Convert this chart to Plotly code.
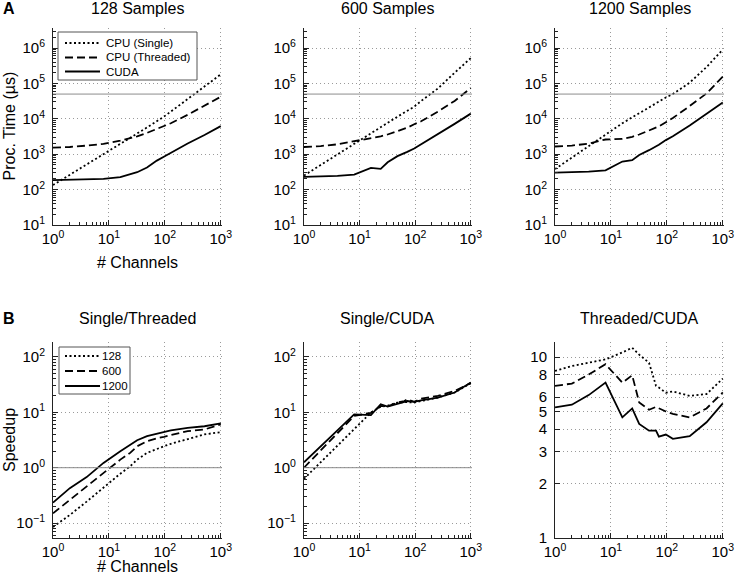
import plotly.graph_objects as go

# %%
# dados (eixo x = número de canais)

channels = [1, 2, 4, 8, 16, 24, 32, 48, 64, 72, 96, 128, 256, 512, 1000]

# tempo de processamento (us)
t128_single = [134, 260, 500, 1000, 1900, 2830, 3800, 5700, 7600, 8500, 11500, 16000, 36000, 82000, 180000]
t128_threaded = [1540, 1600, 1750, 1950, 2400, 2800, 3200, 4000, 4800, 5100, 6200, 7500, 13000, 23000, 42000]
t128_cuda = [185, 188, 192, 200, 225, 270, 310, 420, 600, 660, 850, 1100, 2000, 3500, 6200]

t600_single = [250, 500, 1000, 1900, 3800, 5700, 7600, 11500, 15000, 17000, 22000, 32000, 72000, 200000, 520000]
t600_threaded = [1600, 1700, 1900, 2300, 2800, 3200, 3600, 4400, 5200, 5600, 7000, 8500, 16000, 32000, 74000]
t600_cuda = [230, 235, 245, 265, 410, 385, 590, 880, 1050, 1160, 1450, 1900, 3700, 7200, 14000]

t1200_single = [380, 800, 1700, 3600, 7500, 11000, 14500, 21000, 28000, 31000, 40000, 50000, 105000, 290000, 900000]
t1200_threaded = [1650, 1750, 2000, 2600, 2700, 3100, 3600, 4600, 5600, 6100, 8000, 10500, 23000, 52000, 155000]
t1200_cuda = [300, 305, 320, 350, 620, 680, 950, 1300, 1650, 1850, 2500, 3200, 6500, 13500, 29000]

# speedups
st_128 = [0.085, 0.14, 0.244, 0.445, 0.78, 1.06, 1.4, 1.85, 2.1, 2.2, 2.44, 2.7, 3.32, 4.0, 4.39]
st_600 = [0.15, 0.263, 0.446, 0.78, 1.40, 1.85, 2.44, 3.01, 3.3, 3.4, 3.61, 3.9, 4.58, 4.9, 6.05]
st_1200 = [0.234, 0.427, 0.676, 1.22, 1.98, 2.62, 3.14, 3.72, 3.98, 4.2, 4.5, 4.7, 5.26, 5.6, 6.3]

sc_128 = [0.63, 1.25, 2.5, 5.0, 9.9, 12.6, 13.2, 15, 15.5, 15.3, 15, 16, 18.5, 22.8, 33.6]
sc_600 = [1.0, 2.05, 4.2, 8.6, 9.8, 13, 12.8, 15, 16, 17.2, 15.5, 17.7, 19.8, 24.4, 33.6]
sc_1200 = [1.25, 2.4, 4.7, 9.2, 8.9, 14, 12.7, 14.4, 15.5, 16, 15.4, 16.5, 18.5, 22.8, 34.6]

tc_128 = [8.38, 8.92, 9.3, 9.7, 10.6, 11.25, 10.3, 9.3, 6.93, 6.78, 6.35, 6.45, 6.1, 6.24, 7.6]
tc_600 = [6.93, 7.13, 8.0, 9.12, 7.22, 7.93, 5.61, 5.11, 5.3, 5.2, 5.0, 4.85, 4.64, 5.2, 6.37]
tc_1200 = [5.27, 5.45, 6.16, 7.22, 4.64, 5.2, 4.27, 3.92, 3.92, 3.63, 3.73, 3.53, 3.65, 4.36, 5.54]

realtime_us = 5e4   # linha cinza (painel A)
unity = 1           # linha cinza (painel B)

top_titles = ["128 Samples", "600 Samples", "1200 Samples"]
bottom_titles = ["Single/Threaded", "Single/CUDA", "Threaded/CUDA"]
top_names = ["CPU (Single)", "CPU (Threaded)", "CUDA"]
bottom_names = ["128", "600", "1200"]

# %%
FONT = "Liberation Sans, Arial, sans-serif"
DASHES = ["2px,2.5px", "8px,4px", "solid"]
W, H = 736, 585

col_x = [[0.0720, 0.3016], [0.4130, 0.6413], [0.7541, 0.9837]]
top_y = [0.6154, 0.9521]
bot_y = [0.0803, 0.4154]

panels = [
    (top_y, [t128_single, t128_threaded, t128_cuda], top_names),
    (top_y, [t600_single, t600_threaded, t600_cuda], top_names),
    (top_y, [t1200_single, t1200_threaded, t1200_cuda], top_names),
    (bot_y, [st_128, st_600, st_1200], bottom_names),
    (bot_y, [sc_128, sc_600, sc_1200], bottom_names),
    (bot_y, [tc_128, tc_600, tc_1200], bottom_names),
]

fig = go.Figure()

for i, (ydom, series, names) in enumerate(panels):
    n = "" if i == 0 else str(i + 1)
    for s, name, dash in zip(series, names, DASHES):
        fig.add_trace(go.Scatter(x=channels, y=s, mode="lines", name=name,
                                 line=dict(color="black", width=1.8, dash=dash),
                                 xaxis="x" + n, yaxis="y" + n, showlegend=False))

minor_x = [m * 10 ** e for e in range(0, 3) for m in range(2, 10)]
minor_top = [m * 10 ** e for e in range(1, 7) for m in range(2, 10)]
minor_bot = [m * 10 ** e for e in range(-2, 3) for m in range(2, 10)]

axis_common = dict(type="log", showline=True, linecolor="#222", linewidth=1,
                   ticks="inside", ticklen=5, tickcolor="#222", automargin=False,
                   showgrid=True, gridcolor="#9a9a9a", griddash="1px,3px", gridwidth=1,
                   zeroline=False, tickfont=dict(size=15, color="black"))

def sup(e):
    return "10<sup>%s</sup>" % ("\u2212%d" % -e if e < 0 else e)

layout = {}
for i, (ydom, series, names) in enumerate(panels):
    n = "" if i == 0 else str(i + 1)
    col = i % 3
    layout["xaxis" + n] = dict(axis_common, domain=col_x[col], anchor="y" + n,
                               range=[0, 3.022], tickvals=[1, 10, 100, 1000],
                               ticktext=[sup(e) for e in range(4)],
                               minor=dict(ticks="inside", ticklen=3, tickcolor="#222",
                                          tickvals=minor_x, showgrid=False))
    if i < 3:
        yax = dict(range=[1, 6.565], tickvals=[10 ** e for e in range(1, 7)],
                   ticktext=[sup(e) for e in range(1, 7)],
                   minor=dict(ticks="inside", ticklen=3, tickcolor="#222",
                              tickvals=minor_top, showgrid=False))
    elif i < 5:
        yax = dict(range=[-1.27, 2.27], tickvals=[0.1, 1, 10, 100],
                   ticktext=[sup(e) for e in range(-1, 3)],
                   minor=dict(ticks="inside", ticklen=3, tickcolor="#222",
                              tickvals=minor_bot, showgrid=False))
    else:
        yax = dict(range=[0, 1.083], tickvals=[1, 2, 3, 4, 5, 6, 8, 10],
                   ticktext=["1", "2", "3", "4", "5", "6", "8", "10"])
    layout["yaxis" + n] = dict(axis_common, domain=ydom, anchor="x" + n,
                               ticklabelstandoff=4, **yax)

    # linha de referência
    if i < 5:
        yref = realtime_us if i < 3 else unity
        fig.add_shape(type="line", xref="x" + n + " domain", yref="y" + n,
                      x0=0, x1=1, y0=yref, y1=yref,
                      line=dict(color="#8c8c8c", width=1))

fig.update_layout(**layout)

# %%
# legendas desenhadas à mão (caixa mais compacta que a legenda do plotly)
def px_x(v):
    return v / W

def px_y(v):
    return 1 - v / H

def legenda(box, rows, names, text_x):
    x0, y0, x1, y1 = box
    fig.add_shape(type="rect", xref="paper", yref="paper",
                  x0=px_x(x0), x1=px_x(x1), y0=px_y(y0), y1=px_y(y1),
                  fillcolor="white", line=dict(color="#555", width=1), layer="above")
    for ry, name, dash in zip(rows, names, DASHES):
        fig.add_shape(type="line", xref="paper", yref="paper",
                      x0=px_x(65), x1=px_x(100), y0=px_y(ry), y1=px_y(ry),
                      line=dict(color="black", width=1.8, dash=dash), layer="above")
        fig.add_annotation(x=px_x(text_x), y=px_y(ry), xref="paper", yref="paper",
                           text=name, showarrow=False, xanchor="left", yanchor="middle",
                           font=dict(size=11.5, color="black"))

legenda((58, 32, 197, 80), [43, 57.5, 71.5], top_names, 104)
legenda((59, 347, 130, 394), [356, 371, 386], bottom_names, 100)

# %%
# textos
ann = []
centers = [(d[0] + d[1]) / 2 for d in col_x]
for c, t in zip(centers, top_titles):
    ann.append(dict(x=c, y=px_y(9), text=t))
for c, t in zip(centers, bottom_titles):
    ann.append(dict(x=c, y=px_y(319), text=t))
ann.append(dict(x=centers[0], y=px_y(262), text="# Channels"))
ann.append(dict(x=centers[0], y=px_y(566), text="# Channels"))
ann.append(dict(x=px_x(9), y=px_y(126.5), text="Proc. Time (\u00b5s)", textangle=-90))
ann.append(dict(x=px_x(9), y=px_y(440), text="Speedup", textangle=-90))
ann.append(dict(x=px_x(9), y=px_y(9), text="<b>A</b>"))
ann.append(dict(x=px_x(9), y=px_y(319), text="<b>B</b>"))
for a in ann:
    a.update(xref="paper", yref="paper", showarrow=False, xanchor="center",
             yanchor="middle", font=dict(size=16, color="black"))
    fig.add_annotation(**a)

fig.update_layout(
    width=W, height=H,
    margin=dict(l=0, r=0, t=0, b=0),
    paper_bgcolor="white", plot_bgcolor="white",
    font=dict(family=FONT, color="black"),
    showlegend=False,
)

# sem margem do <body> e sem barra de ferramentas
fig.write_html("out.html", config=dict(displayModeBar=False),
               post_script="document.body.style.margin='0';")
